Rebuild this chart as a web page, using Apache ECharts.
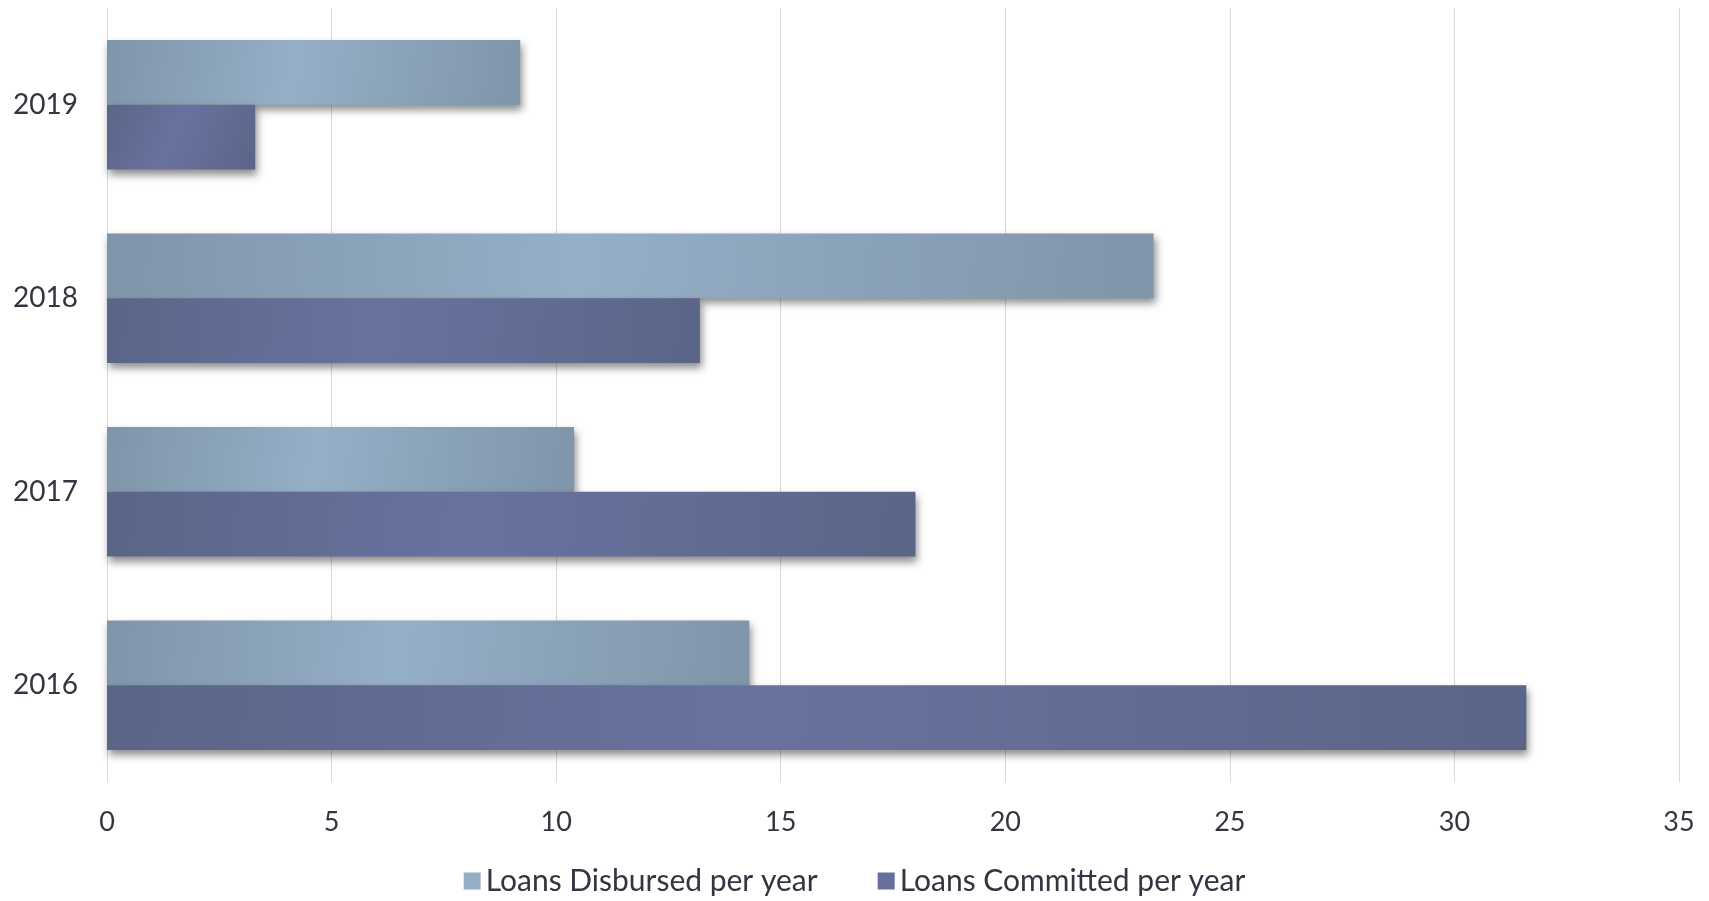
<!DOCTYPE html>
<html>
<head>
<meta charset="utf-8">
<script src="https://cdn.jsdelivr.net/npm/echarts@6/dist/echarts.min.js"></script>
<style>
html,body{margin:0;padding:0;background:#fff;}
#chart{width:1709px;height:901px;}
</style>
</head>
<body>
<div id="chart"></div>
<script>
const categories = ['2016', '2017', '2018', '2019'];
const disbursed = [14.3, 10.4, 23.3, 9.2];
const committed = [31.6, 18.0, 13.2, 3.3];
const seriesNames = ['Loans Disbursed per year', 'Loans Committed per year'];
const xTicks = [0, 5, 10, 15, 20, 25, 30, 35];

const chart = echarts.init(document.getElementById('chart'));
const FONT = 'Lato, "Open Sans", sans-serif';
function grad(edge, mid) {
  return new echarts.graphic.LinearGradient(0, 0, 1, 1, [
    {offset: 0, color: edge},
    {offset: 0.45, color: mid},
    {offset: 1, color: edge}
  ]);
}
chart.setOption({
  animation: false,
  grid: {left: 107, right: 30, top: 8, bottom: 119},
  legend: {
    bottom: 0,
    left: 'center',
    itemWidth: 17,
    itemHeight: 17,
    itemGap: 60,
    icon: 'rect',
    textStyle: {fontFamily: FONT, fontSize: 30, color: '#343442'},
    data: [
      {name: seriesNames[0], itemStyle: {color: '#93aec6'}},
      {name: seriesNames[1], itemStyle: {color: '#666f9e'}}
    ]
  },
  xAxis: {
    type: 'value',
    min: 0, max: 35, interval: 5,
    axisLine: {show: false},
    axisTick: {show: false},
    splitLine: {lineStyle: {color: '#d9d9d9', width: 1}},
    axisLabel: {fontFamily: FONT, fontSize: 27, color: '#343442', margin: 27,
      formatter: v => xTicks.includes(v) ? String(v) : ''}
  },
  yAxis: {
    type: 'category',
    data: categories,
    axisLine: {show: false},
    axisTick: {show: false},
    axisLabel: {fontFamily: FONT, fontSize: 28, color: '#343442', margin: 29}
  },
  series: [
    {
      name: seriesNames[0], type: 'bar', data: disbursed,
      barGap: '0%', barCategoryGap: '33%',
      itemStyle: {
        color: grad('#7f95a9', '#95afc7'),
        shadowColor: 'rgba(0,0,0,0.45)', shadowBlur: 8, shadowOffsetX: 2, shadowOffsetY: 5
      }
    },
    {
      name: seriesNames[1], type: 'bar', data: committed,
      barGap: '0%', barCategoryGap: '33%',
      itemStyle: {
        color: grad('#5b6587', '#69729f'),
        shadowColor: 'rgba(0,0,0,0.45)', shadowBlur: 8, shadowOffsetX: 2, shadowOffsetY: 5
      }
    }
  ]
});
</script>
</body>
</html>
